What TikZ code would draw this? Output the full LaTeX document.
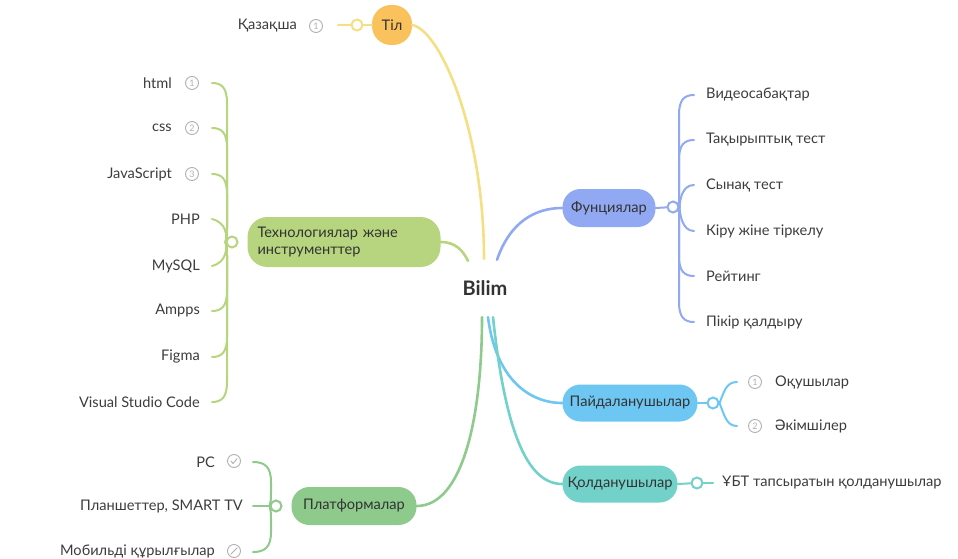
\documentclass[tikz,border=0pt]{standalone}
\usepackage{fontspec}
\setmainfont{Lato}
\usetikzlibrary{calc}
\definecolor{txt}{HTML}{333333}
\definecolor{leafc}{HTML}{3C3C3C}
\definecolor{badgec}{HTML}{B0B0B0}
\definecolor{tilfill}{HTML}{F9C25C}
\definecolor{tilline}{HTML}{F5DF84}
\definecolor{techc}{HTML}{B6D57E}
\definecolor{platc}{HTML}{8DCA8B}
\definecolor{funcc}{HTML}{91A9F2}
\definecolor{payc}{HTML}{6EC7F2}
\definecolor{kolc}{HTML}{72D2CA}
\begin{document}
\begin{tikzpicture}[x=1pt,y=-1pt,
  leaf/.style={font=\fontsize{14.6}{17}\selectfont, text=leafc, inner sep=0pt},
  pill/.style={rounded corners=18pt, text=txt, font=\fontsize{14.6}{17}\selectfont, inner sep=0pt, minimum height=37pt},
  junc/.style={circle, draw=#1, fill=white, line width=2pt, minimum size=11pt, inner sep=0pt},
  badge/.style={circle, draw=badgec, line width=0.9pt, minimum size=13pt, inner sep=0pt, text=badgec, font=\fontsize{9}{9}\selectfont},
  conn/.style={draw=#1, line width=2.6pt, line cap=round},
  twig/.style={draw=#1, line width=2pt, line cap=round},
]
\useasboundingbox (0,0) rectangle (958,559);

% centre
\node[font=\bfseries\fontsize{20}{24}\selectfont, text=txt, minimum width=60pt, minimum height=58pt, inner sep=0pt] (bilim) at (485,288) {Bilim};

% ---------- Тіл ----------
\node[pill, fill=tilfill, minimum width=40pt, minimum height=40pt, rounded corners=19pt] (til) at (392,25) {Тіл};
\node[junc=tilline] (jtil) at (357,25) {};
\node[badge] (btil) at (316,26) {1};
\node[leaf, anchor=east] (kaz) at (297,26) {Қазақша};
\coordinate (htil) at (338,25);
\draw[twig=tilline] (htil) -- (jtil);
\draw[twig=tilline] (jtil) -- (til);
\draw[conn=tilline] (til.east) .. controls (440,30) and (484,130) .. ($(bilim.north)+(-1,0)$);

% ---------- Технологиялар ----------
\node[pill, fill=techc, minimum width=193pt, minimum height=50pt, rounded corners=20pt, text width=173pt, align=left] (tech) at (344,242) {Технологиялар және\\инструменттер};
\node[junc=techc] (jtech) at (232,242) {};
\draw[conn=techc] (tech.east) .. controls (456,242) and (463,251) .. ($(bilim.north)+(-17,2)$);
\foreach \name/\ly/\txt/\b in {html/83/html/1, css/128/css/2, js/174/JavaScript/3}{
  \node[badge] (b\name) at (192,\ly) {\b};
  \node[leaf, anchor=east] (\name) at (172,\ly) {\txt};
}
\foreach \name/\ly/\txt in {php/219/PHP, mysql/266/MySQL, ampps/311/Ampps, figma/357/Figma, vsc/402/Visual Studio Code}{
  \node[leaf, anchor=east] (\name) at (200,\ly) {\txt};
}
\foreach \name/\ly in {html/83, css/128, js/174}{
  \coordinate (h\name) at (212,\ly);
  \draw[twig=techc] (jtech.west) .. controls (227,236) .. (227,225) -- (227,\ly+20) .. controls (227,\ly+5) and (222,\ly) .. (h\name);
}
\coordinate (hphp) at (212,219);
\draw[twig=techc] (jtech.west) .. controls (227,236) and (227,223) .. (hphp);
\foreach \name/\ly in {ampps/311, figma/357, vsc/402}{
  \coordinate (h\name) at (212,\ly);
  \draw[twig=techc] (jtech.west) .. controls (227,248) .. (227,259) -- (227,\ly-20) .. controls (227,\ly-5) and (222,\ly) .. (h\name);
}
\coordinate (hmysql) at (212,266);
\draw[twig=techc] (jtech.west) .. controls (227,248) and (227,262) .. (hmysql);

% ---------- Платформалар ----------
\node[pill, fill=platc, minimum width=125pt, minimum height=38pt] (plat) at (354,506) {Платформалар};
\node[junc=platc] (jplat) at (276,506) {};
\draw[conn=platc] (plat.east) .. controls (462,506) and (482,420) .. ($(bilim.south)+(-3,0)$);
\node[leaf, anchor=east] (pc) at (215,462) {PC};
\node[leaf, anchor=east] (tab) at (243,506) {Планшеттер, SMART TV};
\node[leaf, anchor=east] (mob) at (215,551) {Мобильді құрылғылар};
\node[circle, draw=badgec, line width=0.9pt, minimum size=13pt, inner sep=0pt] (bpc) at (234,461) {};
\draw[badgec, line width=0.9pt] ($(bpc)+(-3,0)$) -- ($(bpc)+(-1,2.5)$) -- ($(bpc)+(3.2,-2.5)$);
\node[circle, draw=badgec, line width=0.9pt, minimum size=13pt, inner sep=0pt] (bmob) at (234,551) {};
\draw[badgec, line width=0.9pt] ($(bmob)+(-3.3,3.3)$) -- ($(bmob)+(3.3,-3.3)$);
\coordinate (hpc) at (253,462);
\coordinate (hmob) at (253,552);
\coordinate (htab) at (253,506);
\draw[twig=platc] (jplat.west) -- (htab);
\draw[twig=platc] (jplat.west) .. controls (271,500) .. (271,490) -- (271,482) .. controls (271,467) and (265,462) .. (hpc);
\draw[twig=platc] (jplat.west) .. controls (271,512) .. (271,522) -- (271,532) .. controls (271,547) and (265,552) .. (hmob);

% ---------- Функциялар ----------
\node[pill, fill=funcc, minimum width=93pt, minimum height=38pt] (func) at (609,208) {Фунциялар};
\node[junc=funcc] (jfunc) at (673,207) {};
\draw[conn=funcc] ($(bilim.north)+(12,1)$) .. controls (510,222) and (535,208) .. (func.west);
\draw[twig=funcc] (func.east) -- (jfunc);
\foreach \name/\ly/\txt in {f1/95/Видеосабақтар, f2/140/Тақырыптық тест}{
  \node[leaf, anchor=west] (\name) at (706,\ly) {\txt};
  \coordinate (h\name) at (694,\ly);
  \draw[twig=funcc] (jfunc.east) .. controls (679,201) .. (679,190) -- (679,\ly+20) .. controls (679,\ly+5) and (684,\ly) .. (h\name);
}
\node[leaf, anchor=west] (f3) at (706,185) {Сынақ тест};
\coordinate (hf3) at (694,185);
\draw[twig=funcc] (jfunc.east) .. controls (680,200) and (682,185) .. (hf3);
\node[leaf, anchor=west] (f4) at (706,231) {Кіру жіне тіркелу};
\coordinate (hf4) at (694,231);
\draw[twig=funcc] (jfunc.east) .. controls (680,214) and (682,231) .. (hf4);
\foreach \name/\ly/\txt in {f5/276/Рейтинг, f6/322/Пікір қалдыру}{
  \node[leaf, anchor=west] (\name) at (706,\ly) {\txt};
  \coordinate (h\name) at (694,\ly);
  \draw[twig=funcc] (jfunc.east) .. controls (679,213) .. (679,224) -- (679,\ly-20) .. controls (679,\ly-5) and (684,\ly) .. (h\name);
}

% ---------- Пайдаланушылар ----------
\node[pill, fill=payc, minimum width=135pt, minimum height=37pt] (pay) at (630,403) {Пайдаланушылар};
\node[junc=payc] (jpay) at (713,403) {};
\draw[conn=payc] ($(bilim.south)+(3,0)$) .. controls (496,380) and (530,403) .. (pay.west);
\draw[twig=payc] (pay.east) -- (jpay);
\node[badge] (bp1) at (755,382) {1};
\node[badge] (bp2) at (755,426) {2};
\node[leaf, anchor=west] (p1) at (775,382) {Оқушылар};
\node[leaf, anchor=west] (p2) at (775,426) {Әкімшілер};
\coordinate (hp1) at (737,382);
\coordinate (hp2) at (737,426);
\draw[twig=payc] (jpay.east) .. controls (724,392) and (726,382) .. (hp1);
\draw[twig=payc] (jpay.east) .. controls (724,414) and (726,426) .. (hp2);

% ---------- Қолданушылар ----------
\node[pill, fill=kolc, minimum width=115pt, minimum height=37pt] (kol) at (620,484) {Қолданушылар};
\node[junc=kolc] (jkol) at (697,483) {};
\draw[conn=kolc] ($(bilim.south)+(8,0)$) .. controls (506,440) and (530,484) .. (kol.west);
\draw[twig=kolc] (kol.east) -- (jkol);
\coordinate (hkol) at (713,483);
\draw[twig=kolc] (jkol) -- (hkol);
\node[leaf, anchor=west] (ubt) at (722,483) {ҰБТ тапсыратын қолданушылар};
\end{tikzpicture}
\end{document}
